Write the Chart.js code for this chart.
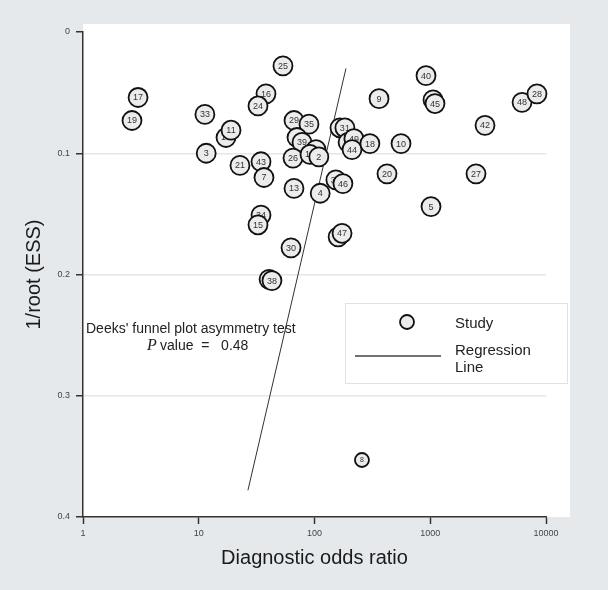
<!DOCTYPE html>
<html>
<head>
<meta charset="utf-8">
<script src="https://cdn.jsdelivr.net/npm/chart.js@4/dist/chart.umd.min.js"></script>
<style>
 html, body { margin: 0; padding: 0; background: #e6e9ec; }
 #wrap { width: 608px; height: 590px; }
</style>
</head>
<body>
<div id="wrap"><canvas id="deeks-chart" width="608" height="590"></canvas></div>
<script>
// study number, diagnostic odds ratio, 1/root(ESS)
var studyIds = [25, 17, 19, 33, 16, 24, 14, 11, 29, 35, 6, 39, 26, 22, 12, 2, 3, 21, 43, 7,
 13, 4, 34, 15, 30, 41, 47, 1, 38, 8, 40, 9, 36, 45, 48, 28, 42, 23, 31, 32,
 49, 44, 18, 10, 20, 27, 5, 37, 46];
var studyDor = [53.4, 2.99, 2.65, 11.3, 38.1, 32.5, 17.2, 19.0, 66.5, 89.6, 70.6, 78.0, 65.2, 103, 91.4, 109, 11.6, 22.7, 34.5, 36.6,
 66.5, 112, 34.5, 32.5, 62.7, 160, 173, 40.5, 42.9, 257, 919, 361, 1057, 1099, 6209, 8356, 2972, 166, 183, 195,
 219, 211, 301, 559, 423, 2485, 1015, 153, 176];
var studyInvRootEss = [0.028, 0.054, 0.073, 0.068, 0.051, 0.061, 0.087, 0.081, 0.073, 0.076, 0.087, 0.091, 0.104, 0.097, 0.101, 0.103, 0.100, 0.110, 0.107, 0.120,
 0.129, 0.133, 0.151, 0.159, 0.178, 0.169, 0.166, 0.204, 0.205, 0.353, 0.036, 0.055, 0.056, 0.059, 0.058, 0.051, 0.077, 0.079, 0.079, 0.091,
 0.088, 0.097, 0.092, 0.092, 0.117, 0.117, 0.144, 0.122, 0.125];

// regression line end points
var lineDor = [26.6, 187];
var lineInvRootEss = [0.378, 0.030];

var xTicks = [1, 10, 100, 1000, 10000];
var yTicks = [0, 0.1, 0.2, 0.3, 0.4];

var pValue = "0.48";

var studyPoints = studyDor.map(function (d, i) {
 return { x: d, y: studyInvRootEss[i] };
});
var linePoints = lineDor.map(function (d, i) {
 return { x: d, y: lineInvRootEss[i] };
});

var sans = "'Liberation Sans', Arial, sans-serif";

var panelPlugin = {
 id: "panel",
 beforeDraw: function (chart) {
  var c = chart.ctx;
  c.save();
  c.fillStyle = "#e6e9ec";
  c.fillRect(0, 0, chart.width, chart.height);
  c.fillStyle = "#ffffff";
  c.fillRect(chart.chartArea.left, 24, 487, chart.chartArea.bottom - 24);
  c.restore();
 },
};

// circles with the study number inside, drawn in order so later ones cover earlier
var studyLabelPlugin = {
 id: "studyLabels",
 afterDatasetsDraw: function (chart) {
  var meta = chart.getDatasetMeta(0);
  var c = chart.ctx;
  c.save();
  meta.data.forEach(function (el, i) {
   var id = studyIds[i];
   var r = id === 8 ? 7 : 9.5;
   c.beginPath();
   c.arc(el.x, el.y, r, 0, Math.PI * 2);
   c.fillStyle = "#ececec";
   c.fill();
   c.lineWidth = 1.8;
   c.strokeStyle = "#111";
   c.stroke();
   c.fillStyle = "#333";
   c.font = (id === 8 ? 7 : 9) + "px " + sans;
   c.textAlign = "center";
   c.textBaseline = "middle";
   c.fillText(String(id), el.x, el.y + 0.5);
  });
  c.restore();
 },
};

var annotationPlugin = {
 id: "annotations",
 afterDraw: function (chart) {
  var c = chart.ctx;
  c.save();
  c.fillStyle = "#222";
  c.textBaseline = "alphabetic";
  c.textAlign = "left";
  c.font = "14px " + sans;
  c.fillText("Deeks' funnel plot asymmetry test", 86, 333);
  c.font = "italic 16px 'Liberation Serif', serif";
  c.fillText("P", 147, 350);
  c.font = "14px " + sans;
  c.fillText("value  =   " + pValue, 160, 350);

  // legend box
  c.fillStyle = "#ffffff";
  c.fillRect(345, 303, 222, 80);
  c.strokeStyle = "#e2e2e2";
  c.lineWidth = 1;
  c.strokeRect(345.5, 303.5, 222, 80);
  c.beginPath();
  c.arc(407, 322, 7, 0, Math.PI * 2);
  c.fillStyle = "#ececec";
  c.fill();
  c.lineWidth = 1.8;
  c.strokeStyle = "#111";
  c.stroke();
  c.beginPath();
  c.moveTo(355, 356);
  c.lineTo(441, 356);
  c.lineWidth = 1.5;
  c.strokeStyle = "#444";
  c.stroke();
  c.fillStyle = "#222";
  c.font = "15px " + sans;
  c.fillText("Study", 455, 328);
  c.fillText("Regression", 455, 355);
  c.fillText("Line", 455, 372);
  c.restore();
 },
};

var ctx = document.getElementById("deeks-chart");

new Chart(ctx, {
 type: "scatter",
 data: {
  datasets: [
   {
    label: "Study",
    data: studyPoints,
    pointRadius: 0,
    pointHoverRadius: 0,
   },
   {
    type: "line",
    label: "Regression Line",
    data: linePoints,
    borderColor: "#333",
    borderWidth: 1,
    pointRadius: 0,
    fill: false,
   },
  ],
 },
 plugins: [panelPlugin, studyLabelPlugin, annotationPlugin],
 options: {
  responsive: false,
  animation: false,
  events: [],
  layout: {
   padding: { top: 32, right: 62, left: 0, bottom: 0 },
  },
  plugins: {
   legend: { display: false },
   tooltip: { enabled: false },
  },
  scales: {
   x: {
    type: "logarithmic",
    min: 1,
    max: 10000,
    afterBuildTicks: function (scale) {
     scale.ticks = xTicks.map(function (v) {
      return { value: v };
     });
    },
    afterFit: function (scale) {
     scale.height = 73;
    },
    border: { display: true, color: "#333", width: 1.5 },
    grid: {
     drawOnChartArea: false,
     tickLength: 7,
     tickColor: "#333",
     tickWidth: 1.5,
    },
    ticks: {
     color: "#444",
     font: { family: sans, size: 9 },
     padding: 4,
     maxRotation: 0,
     callback: function (v) {
      return String(v);
     },
    },
    title: {
     display: true,
     text: "Diagnostic odds ratio",
     color: "#1a1a1a",
     font: { family: sans, size: 20 },
     padding: { top: 2, bottom: 20 },
    },
   },
   y: {
    type: "linear",
    reverse: true,
    min: 0,
    max: 0.4,
    afterBuildTicks: function (scale) {
     scale.ticks = yTicks.map(function (v) {
      return { value: v };
     });
    },
    afterFit: function (scale) {
     scale.width = 83;
    },
    border: { display: true, color: "#333", width: 1.5 },
    grid: {
     color: function (c) {
      var v = c.tick ? c.tick.value : 0;
      return v > 0.01 && v < 0.39 ? "#e6e6e6" : "rgba(0,0,0,0)";
     },
     lineWidth: 1.5,
     tickLength: 7,
     tickColor: "#333",
     tickWidth: 1.5,
    },
    ticks: {
     color: "#444",
     font: { family: sans, size: 9 },
     padding: 6,
     callback: function (v) {
      return String(Math.round(v * 10) / 10);
     },
    },
    title: {
     display: true,
     text: "1/root (ESS)",
     color: "#1a1a1a",
     font: { family: sans, size: 20 },
     padding: { top: 22, bottom: 6 },
    },
   },
  },
 },
});
</script>
</body>
</html>
